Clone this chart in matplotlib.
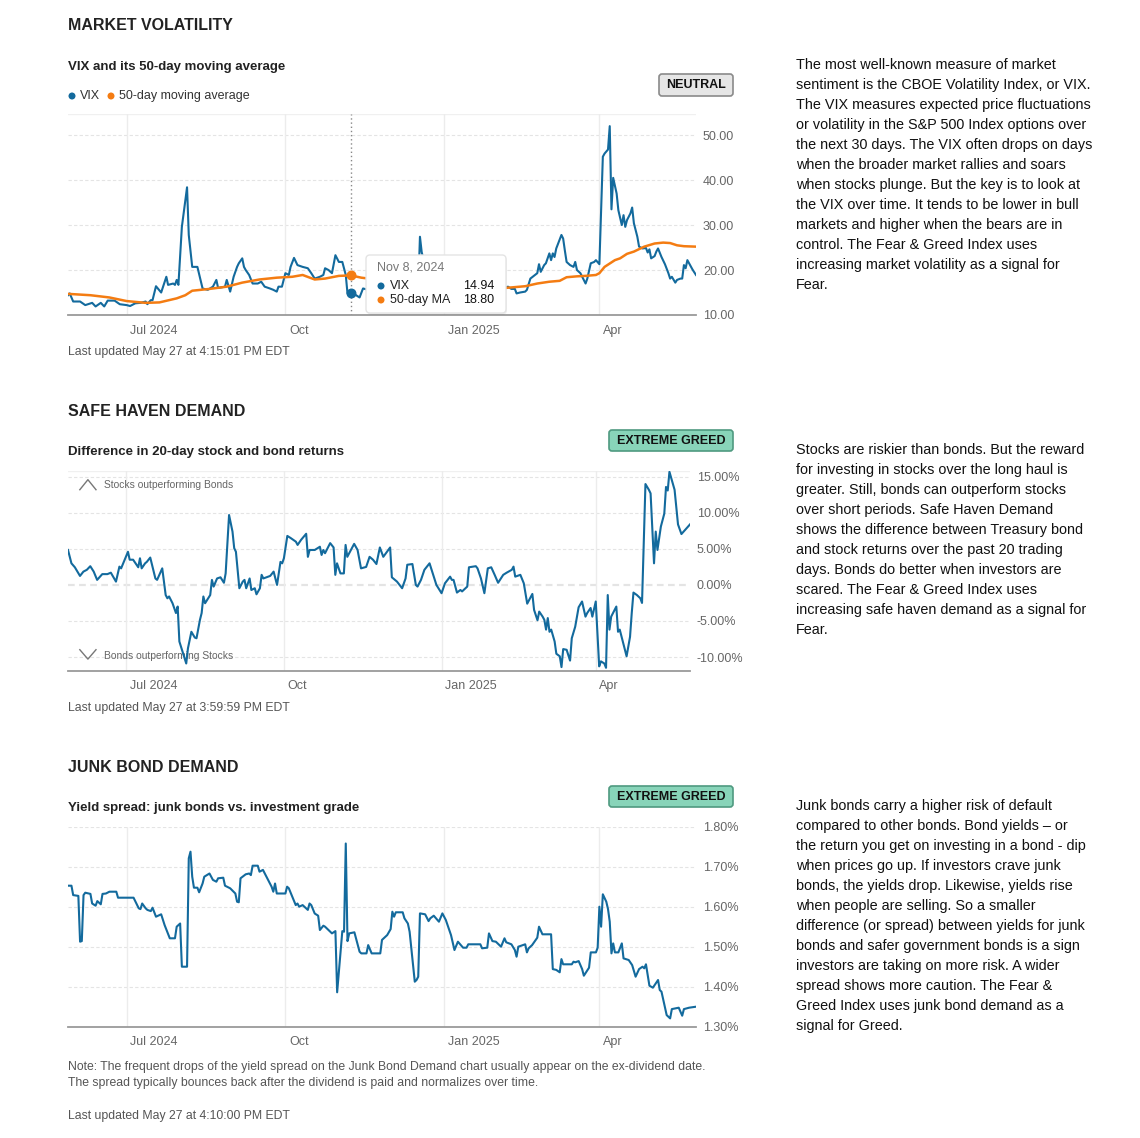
import numpy as np
import pandas as pd
import matplotlib
matplotlib.use("Agg")
import matplotlib.pyplot as plt
import matplotlib.transforms as mtransforms
from matplotlib.patches import FancyBboxPatch, Ellipse
from matplotlib.ticker import FuncFormatter

plt.rcParams['font.family'] = ['Liberation Sans', 'DejaVu Sans']

# ---------------- data ----------------
vix = [
    ("2024-05-28", 14.4), ("2024-05-29", 14.8), ("2024-05-31", 13.0), ("2024-06-04", 13.0),
    ("2024-06-07", 12.2), ("2024-06-11", 12.7), ("2024-06-13", 11.9), ("2024-06-16", 12.7),
    ("2024-06-18", 11.9), ("2024-06-20", 13.2), ("2024-06-24", 13.2), ("2024-06-27", 12.4),
    ("2024-07-01", 12.2), ("2024-07-03", 12.0), ("2024-07-06", 12.6), ("2024-07-09", 12.7),
    ("2024-07-12", 13.0), ("2024-07-13", 12.4), ("2024-07-15", 13.3), ("2024-07-16", 13.3),
    ("2024-07-18", 16.4), ("2024-07-21", 15.0), ("2024-07-24", 18.5), ("2024-07-25", 16.7),
    ("2024-07-28", 17.0), ("2024-07-29", 16.7), ("2024-07-30", 17.8), ("2024-07-31", 16.7),
    ("2024-08-02", 29.6), ("2024-08-05", 38.4), ("2024-08-06", 27.8), ("2024-08-08", 20.7),
    ("2024-08-11", 20.7), ("2024-08-14", 15.9), ("2024-08-17", 15.6), ("2024-08-20", 16.3),
    ("2024-08-22", 17.8), ("2024-08-23", 16.0), ("2024-08-27", 16.3), ("2024-08-28", 17.8),
    ("2024-08-30", 15.2), ("2024-09-01", 18.5), ("2024-09-03", 20.7), ("2024-09-04", 21.5),
    ("2024-09-06", 22.6), ("2024-09-07", 20.7), ("2024-09-08", 20.0), ("2024-09-10", 18.9),
    ("2024-09-12", 17.0), ("2024-09-15", 17.0), ("2024-09-17", 17.4), ("2024-09-19", 16.3),
    ("2024-09-22", 15.9), ("2024-09-24", 15.6), ("2024-09-26", 15.2), ("2024-09-27", 16.3),
    ("2024-09-29", 16.3), ("2024-10-01", 19.3), ("2024-10-03", 18.9), ("2024-10-04", 20.7),
    ("2024-10-06", 22.7), ("2024-10-08", 21.1), ("2024-10-11", 20.7), ("2024-10-14", 20.4),
    ("2024-10-16", 19.3), ("2024-10-18", 18.1), ("2024-10-21", 18.5), ("2024-10-23", 18.9),
    ("2024-10-24", 20.4), ("2024-10-26", 20.0), ("2024-10-28", 19.3), ("2024-10-30", 23.3),
    ("2024-11-01", 21.8), ("2024-11-03", 21.8), ("2024-11-05", 18.9), ("2024-11-06", 14.8),
    ("2024-11-08", 14.94), ("2024-11-11", 14.4), ("2024-11-13", 13.9), ("2024-11-15", 15.9),
    ("2024-11-17", 15.7), ("2024-11-21", 17.0), ("2024-11-27", 14.1), ("2024-12-05", 13.5),
    ("2024-12-12", 14.0), ("2024-12-17", 15.9), ("2024-12-18", 27.4), ("2024-12-19", 24.0),
    ("2024-12-24", 16.0), ("2025-01-02", 17.9), ("2025-01-10", 19.5), ("2025-01-17", 16.0),
    ("2025-01-24", 14.8), ("2025-01-31", 16.4), ("2025-02-05", 15.9), ("2025-02-07", 16.3),
    ("2025-02-09", 15.8), ("2025-02-11", 15.8), ("2025-02-12", 14.8), ("2025-02-14", 15.0),
    ("2025-02-17", 15.2), ("2025-02-18", 15.6), ("2025-02-20", 18.1), ("2025-02-22", 18.7),
    ("2025-02-24", 19.3), ("2025-02-25", 21.3), ("2025-02-26", 19.6), ("2025-02-28", 21.1),
    ("2025-03-01", 21.5), ("2025-03-03", 23.7), ("2025-03-04", 22.2), ("2025-03-05", 23.7),
    ("2025-03-06", 22.9), ("2025-03-07", 24.8), ("2025-03-10", 27.8), ("2025-03-11", 27.0),
    ("2025-03-12", 24.3), ("2025-03-13", 21.8), ("2025-03-15", 21.1), ("2025-03-17", 20.7),
    ("2025-03-18", 21.8), ("2025-03-19", 20.0), ("2025-03-21", 19.3), ("2025-03-23", 17.8),
    ("2025-03-24", 17.0), ("2025-03-25", 18.1), ("2025-03-27", 21.5), ("2025-03-29", 21.8),
    ("2025-03-30", 22.2), ("2025-04-01", 21.3), ("2025-04-03", 45.2), ("2025-04-04", 45.9),
    ("2025-04-06", 46.8), ("2025-04-07", 52.0), ("2025-04-08", 33.5), ("2025-04-09", 40.5),
    ("2025-04-11", 37.0), ("2025-04-12", 33.3), ("2025-04-14", 30.0), ("2025-04-15", 32.2),
    ("2025-04-16", 29.6), ("2025-04-17", 31.1), ("2025-04-19", 32.6), ("2025-04-20", 33.9),
    ("2025-04-21", 30.4), ("2025-04-23", 27.4), ("2025-04-24", 25.2), ("2025-04-26", 24.8),
    ("2025-04-28", 24.9), ("2025-04-29", 23.9), ("2025-04-30", 24.6), ("2025-05-01", 22.6),
    ("2025-05-03", 23.1), ("2025-05-04", 24.1), ("2025-05-05", 24.8), ("2025-05-07", 22.9),
    ("2025-05-09", 21.3), ("2025-05-11", 19.3), ("2025-05-12", 18.1), ("2025-05-13", 18.5),
    ("2025-05-15", 17.2), ("2025-05-16", 17.8), ("2025-05-18", 18.1), ("2025-05-19", 18.1),
    ("2025-05-20", 21.1), ("2025-05-21", 20.4), ("2025-05-22", 22.2), ("2025-05-23", 21.5),
    ("2025-05-25", 20.1), ("2025-05-27", 18.9),
]

vix_ma = [
    ("2024-05-28", 14.7), ("2024-06-10", 14.4), ("2024-06-21", 13.9), ("2024-07-01", 13.1),
    ("2024-07-12", 12.7), ("2024-07-20", 12.8), ("2024-07-30", 13.7), ("2024-08-04", 14.4),
    ("2024-08-08", 15.4), ("2024-08-18", 15.8), ("2024-08-28", 16.3), ("2024-09-06", 17.2),
    ("2024-09-16", 17.9), ("2024-09-26", 18.3), ("2024-10-05", 18.5), ("2024-10-11", 18.9),
    ("2024-10-18", 17.9), ("2024-10-24", 18.1), ("2024-11-01", 18.7), ("2024-11-08", 18.80),
    ("2024-11-14", 18.3), ("2024-12-01", 17.5), ("2025-01-01", 16.5), ("2025-02-05", 16.0),
    ("2025-02-17", 16.4), ("2025-02-24", 17.0), ("2025-03-03", 17.4), ("2025-03-09", 17.6),
    ("2025-03-13", 18.4), ("2025-03-19", 18.6), ("2025-03-24", 18.7), ("2025-03-30", 18.9),
    ("2025-04-01", 19.3), ("2025-04-04", 20.7), ("2025-04-10", 22.2), ("2025-04-13", 22.6),
    ("2025-04-17", 23.6), ("2025-04-21", 24.1), ("2025-04-27", 25.2), ("2025-05-03", 25.9),
    ("2025-05-08", 26.1), ("2025-05-12", 26.0), ("2025-05-16", 25.5), ("2025-05-20", 25.3),
    ("2025-05-27", 25.2),
]

safe_haven = [
    ("2024-05-28", 4.85), ("2024-05-30", 3.0), ("2024-06-01", 2.45), ("2024-06-04", 1.25),
    ("2024-06-06", 1.85), ("2024-06-08", 2.1), ("2024-06-10", 2.6), ("2024-06-12", 1.85),
    ("2024-06-14", 0.7), ("2024-06-17", 1.5), ("2024-06-20", 1.5), ("2024-06-22", 1.7),
    ("2024-06-25", 0.46), ("2024-06-27", 2.54), ("2024-06-28", 2.3), ("2024-06-30", 3.46),
    ("2024-07-02", 4.6), ("2024-07-03", 3.5), ("2024-07-05", 3.5), ("2024-07-08", 2.45),
    ("2024-07-09", 3.7), ("2024-07-10", 2.3), ("2024-07-12", 3.0), ("2024-07-13", 3.2),
    ("2024-07-15", 3.8), ("2024-07-18", 0.9), ("2024-07-19", 0.7), ("2024-07-22", 2.3),
    ("2024-07-24", -1.4), ("2024-07-25", -1.85), ("2024-07-26", -1.6), ("2024-07-28", -2.54),
    ("2024-07-30", -3.9), ("2024-07-31", -3.0), ("2024-08-01", -7.85), ("2024-08-05", -10.9),
    ("2024-08-06", -8.8), ("2024-08-08", -6.5), ("2024-08-10", -7.3), ("2024-08-11", -7.4),
    ("2024-08-13", -4.85), ("2024-08-14", -3.9), ("2024-08-15", -1.6), ("2024-08-16", -2.54),
    ("2024-08-19", -1.4), ("2024-08-20", 0.7), ("2024-08-21", -0.23), ("2024-08-23", 0.9),
    ("2024-08-25", 1.06), ("2024-08-27", 0.3), ("2024-08-28", 1.6), ("2024-08-30", 9.7),
    ("2024-09-01", 7.4), ("2024-09-02", 5.1), ("2024-09-03", 4.6), ("2024-09-05", -0.46),
    ("2024-09-07", 0.46), ("2024-09-08", 0.7), ("2024-09-09", -0.46), ("2024-09-11", 0.9),
    ("2024-09-12", -0.7), ("2024-09-14", -0.46), ("2024-09-15", -1.3), ("2024-09-17", -0.46),
    ("2024-09-18", 1.4), ("2024-09-19", 0.9), ("2024-09-23", 1.25), ("2024-09-25", 1.85),
    ("2024-09-27", 0.0), ("2024-09-29", 3.2), ("2024-09-30", 3.0), ("2024-10-01", 3.7),
    ("2024-10-03", 6.8), ("2024-10-05", 6.5), ("2024-10-08", 6.0), ("2024-10-09", 5.55),
    ("2024-10-11", 6.25), ("2024-10-14", 7.1), ("2024-10-15", 3.9), ("2024-10-16", 4.85),
    ("2024-10-19", 4.85), ("2024-10-22", 5.3), ("2024-10-23", 4.16), ("2024-10-24", 4.85),
    ("2024-10-25", 4.4), ("2024-10-28", 5.8), ("2024-10-30", 5.2), ("2024-10-31", 1.4),
    ("2024-11-01", 3.0), ("2024-11-03", 1.6), ("2024-11-05", 1.6), ("2024-11-06", 5.55),
    ("2024-11-07", 3.9), ("2024-11-11", 5.7), ("2024-11-13", 4.85), ("2024-11-15", 2.3),
    ("2024-11-18", 2.5), ("2024-11-20", 3.9), ("2024-11-22", 3.5), ("2024-11-24", 2.9),
    ("2024-11-26", 5.2), ("2024-11-28", 3.9), ("2024-12-02", 5.2), ("2024-12-03", 1.06),
    ("2024-12-06", 0.46), ("2024-12-09", -0.46), ("2024-12-11", 0.9), ("2024-12-12", 2.8),
    ("2024-12-15", 2.9), ("2024-12-17", 0.0), ("2024-12-18", -0.23), ("2024-12-20", 0.7),
    ("2024-12-22", 2.1), ("2024-12-25", 3.0), ("2024-12-29", 0.0), ("2025-01-01", -1.15),
    ("2025-01-03", 0.23), ("2025-01-06", 1.15), ("2025-01-07", 0.7), ("2025-01-08", 0.7),
    ("2025-01-10", -1.06), ("2025-01-12", -0.7), ("2025-01-13", -0.9), ("2025-01-15", -0.46),
    ("2025-01-16", -0.23), ("2025-01-17", 2.45), ("2025-01-21", 2.6), ("2025-01-22", 2.3),
    ("2025-01-24", 0.9), ("2025-01-26", -1.15), ("2025-01-28", 2.3), ("2025-01-30", 2.45),
    ("2025-02-01", 1.4), ("2025-02-03", 0.3), ("2025-02-06", 1.4), ("2025-02-08", 1.7),
    ("2025-02-11", 2.1), ("2025-02-12", 2.54), ("2025-02-13", 1.15), ("2025-02-16", 1.4),
    ("2025-02-18", 0.23), ("2025-02-20", -2.6), ("2025-02-23", -1.25), ("2025-02-24", -3.46),
    ("2025-02-26", -4.9), ("2025-02-27", -3.7), ("2025-03-01", -4.4), ("2025-03-02", -4.85),
    ("2025-03-03", -6.2), ("2025-03-04", -4.6), ("2025-03-05", -6.5), ("2025-03-06", -6.2),
    ("2025-03-08", -7.85), ("2025-03-09", -9.55), ("2025-03-11", -9.9), ("2025-03-12", -11.4),
    ("2025-03-13", -8.9), ("2025-03-15", -9.0), ("2025-03-17", -10.5), ("2025-03-18", -7.4),
    ("2025-03-20", -5.8), ("2025-03-22", -3.1), ("2025-03-24", -2.3), ("2025-03-26", -4.4),
    ("2025-03-27", -3.9), ("2025-03-29", -3.2), ("2025-03-30", -4.4), ("2025-04-01", -2.3),
    ("2025-04-03", -11.3), ("2025-04-04", -10.6), ("2025-04-06", -10.9), ("2025-04-07", -11.5),
    ("2025-04-08", -1.4), ("2025-04-09", -6.2), ("2025-04-10", -4.4), ("2025-04-13", -3.0),
    ("2025-04-14", -6.5), ("2025-04-15", -6.2), ("2025-04-19", -9.9), ("2025-04-21", -7.2),
    ("2025-04-22", -3.9), ("2025-04-23", -1.06), ("2025-04-25", -1.4), ("2025-04-27", -1.85),
    ("2025-04-28", -2.5), ("2025-04-30", 14.0), ("2025-05-02", 13.2), ("2025-05-03", 12.7),
    ("2025-05-05", 3.0), ("2025-05-06", 7.4), ("2025-05-07", 4.85), ("2025-05-09", 8.1),
    ("2025-05-11", 9.9), ("2025-05-12", 13.6), ("2025-05-13", 13.1), ("2025-05-14", 15.7),
    ("2025-05-17", 13.2), ("2025-05-19", 8.4), ("2025-05-21", 7.06), ("2025-05-26", 8.4),
]

junk_spread = [
    ("2024-05-28", 1.6525), ("2024-05-30", 1.6525), ("2024-05-31", 1.629), ("2024-06-03", 1.627),
    ("2024-06-04", 1.5125), ("2024-06-05", 1.514), ("2024-06-06", 1.629), ("2024-06-07", 1.635),
    ("2024-06-10", 1.632), ("2024-06-11", 1.608), ("2024-06-13", 1.6025), ("2024-06-14", 1.614),
    ("2024-06-16", 1.606), ("2024-06-17", 1.632), ("2024-06-19", 1.633), ("2024-06-21", 1.6375),
    ("2024-06-25", 1.6375), ("2024-06-26", 1.6225), ("2024-07-05", 1.6225), ("2024-07-08", 1.596),
    ("2024-07-09", 1.594), ("2024-07-10", 1.608), ("2024-07-12", 1.596), ("2024-07-13", 1.592),
    ("2024-07-15", 1.589), ("2024-07-16", 1.5975), ("2024-07-18", 1.575), ("2024-07-21", 1.581),
    ("2024-07-23", 1.554), ("2024-07-26", 1.521), ("2024-07-29", 1.521), ("2024-07-30", 1.55),
    ("2024-08-01", 1.558), ("2024-08-02", 1.45), ("2024-08-05", 1.45), ("2024-08-06", 1.721),
    ("2024-08-07", 1.7375), ("2024-08-08", 1.675), ("2024-08-09", 1.6475), ("2024-08-11", 1.6475),
    ("2024-08-12", 1.636), ("2024-08-14", 1.658), ("2024-08-15", 1.675), ("2024-08-18", 1.683),
    ("2024-08-20", 1.667), ("2024-08-22", 1.6625), ("2024-08-23", 1.671), ("2024-08-26", 1.6725),
    ("2024-08-27", 1.6525), ("2024-08-30", 1.646), ("2024-09-02", 1.633), ("2024-09-03", 1.6125),
    ("2024-09-04", 1.611), ("2024-09-05", 1.671), ("2024-09-08", 1.681), ("2024-09-10", 1.683),
    ("2024-09-11", 1.679), ("2024-09-12", 1.7025), ("2024-09-15", 1.7025), ("2024-09-16", 1.6875),
    ("2024-09-18", 1.692), ("2024-09-20", 1.675), ("2024-09-23", 1.65), ("2024-09-24", 1.6375),
    ("2024-09-25", 1.658), ("2024-09-26", 1.633), ("2024-10-01", 1.633), ("2024-10-02", 1.65),
    ("2024-10-03", 1.646), ("2024-10-05", 1.625), ("2024-10-07", 1.604), ("2024-10-08", 1.608),
    ("2024-10-09", 1.60), ("2024-10-11", 1.604), ("2024-10-14", 1.592), ("2024-10-15", 1.608),
    ("2024-10-16", 1.604), ("2024-10-18", 1.583), ("2024-10-20", 1.5775), ("2024-10-21", 1.5417),
    ("2024-10-23", 1.5525), ("2024-10-24", 1.55), ("2024-10-27", 1.5375), ("2024-10-28", 1.5333),
    ("2024-10-30", 1.539), ("2024-10-31", 1.386), ("2024-11-03", 1.539), ("2024-11-04", 1.5375),
    ("2024-11-05", 1.758), ("2024-11-06", 1.514), ("2024-11-07", 1.5333), ("2024-11-10", 1.536),
    ("2024-11-13", 1.4875), ("2024-11-14", 1.4833), ("2024-11-17", 1.4833), ("2024-11-18", 1.504),
    ("2024-11-20", 1.4833), ("2024-11-25", 1.4833), ("2024-11-26", 1.517), ("2024-11-29", 1.529),
    ("2024-12-01", 1.544), ("2024-12-02", 1.5875), ("2024-12-03", 1.575), ("2024-12-04", 1.586),
    ("2024-12-08", 1.586), ("2024-12-09", 1.571), ("2024-12-11", 1.558), ("2024-12-12", 1.5375),
    ("2024-12-13", 1.496), ("2024-12-15", 1.4125), ("2024-12-16", 1.4167), ("2024-12-17", 1.425),
    ("2024-12-18", 1.5833), ("2024-12-21", 1.581), ("2024-12-23", 1.564), ("2024-12-24", 1.571),
    ("2024-12-26", 1.5775), ("2024-12-29", 1.5625), ("2024-12-31", 1.5833), ("2025-01-02", 1.5667),
    ("2025-01-05", 1.529), ("2025-01-07", 1.4917), ("2025-01-09", 1.5125), ("2025-01-12", 1.4975),
    ("2025-01-14", 1.4975), ("2025-01-15", 1.506), ("2025-01-22", 1.506), ("2025-01-23", 1.496),
    ("2025-01-26", 1.4975), ("2025-01-27", 1.5333), ("2025-01-29", 1.514), ("2025-01-31", 1.5125),
    ("2025-02-03", 1.50), ("2025-02-05", 1.521), ("2025-02-06", 1.511), ("2025-02-09", 1.506),
    ("2025-02-11", 1.4917), ("2025-02-12", 1.475), ("2025-02-13", 1.50), ("2025-02-17", 1.506),
    ("2025-02-18", 1.4858), ("2025-02-19", 1.496), ("2025-02-21", 1.504), ("2025-02-24", 1.5225),
    ("2025-02-25", 1.55), ("2025-02-27", 1.531), ("2025-03-04", 1.531), ("2025-03-05", 1.444),
    ("2025-03-07", 1.442), ("2025-03-09", 1.436), ("2025-03-10", 1.469), ("2025-03-11", 1.456),
    ("2025-03-16", 1.456), ("2025-03-17", 1.4625), ("2025-03-18", 1.461), ("2025-03-20", 1.464),
    ("2025-03-22", 1.444), ("2025-03-23", 1.4275), ("2025-03-26", 1.4475), ("2025-03-27", 1.4858),
    ("2025-03-30", 1.4858), ("2025-03-31", 1.4975), ("2025-04-01", 1.60), ("2025-04-02", 1.55),
    ("2025-04-03", 1.631), ("2025-04-05", 1.6125), ("2025-04-06", 1.594), ("2025-04-07", 1.5625),
    ("2025-04-08", 1.4833), ("2025-04-09", 1.5083), ("2025-04-10", 1.4858), ("2025-04-12", 1.4858),
    ("2025-04-14", 1.5083), ("2025-04-15", 1.4708), ("2025-04-18", 1.4667), ("2025-04-20", 1.454),
    ("2025-04-22", 1.425), ("2025-04-24", 1.444), ("2025-04-26", 1.45), ("2025-04-27", 1.446),
    ("2025-04-28", 1.456), ("2025-04-30", 1.4025), ("2025-05-02", 1.3975), ("2025-05-05", 1.4167),
    ("2025-05-06", 1.3917), ("2025-05-07", 1.3875), ("2025-05-10", 1.329), ("2025-05-12", 1.3208),
    ("2025-05-13", 1.344), ("2025-05-17", 1.3475), ("2025-05-19", 1.3275), ("2025-05-20", 1.344),
    ("2025-05-23", 1.3475), ("2025-05-27", 1.35),
]

month_ticks = ["2024-07-01", "2024-10-01", "2025-01-01", "2025-04-01"]
month_labels = ["Jul 2024", "Oct", "Jan 2025", "Apr"]

vix_ticks = [10, 20, 30, 40, 50]
safe_ticks = [-10, -5, 0, 5, 10, 15]
junk_ticks = [1.3, 1.4, 1.5, 1.6, 1.7, 1.8]

tooltip_date = "2024-11-08"
tooltip_vix = 14.94
tooltip_ma = 18.80

text_vix = [
    "The most well-known measure of market",
    "sentiment is the CBOE Volatility Index, or VIX.",
    "The VIX measures expected price fluctuations",
    "or volatility in the S&P 500 Index options over",
    "the next 30 days. The VIX often drops on days",
    "when the broader market rallies and soars",
    "when stocks plunge. But the key is to look at",
    "the VIX over time. It tends to be lower in bull",
    "markets and higher when the bears are in",
    "control. The Fear & Greed Index uses",
    "increasing market volatility as a signal for",
    "Fear.",
]
text_safe = [
    "Stocks are riskier than bonds. But the reward",
    "for investing in stocks over the long haul is",
    "greater. Still, bonds can outperform stocks",
    "over short periods. Safe Haven Demand",
    "shows the difference between Treasury bond",
    "and stock returns over the past 20 trading",
    "days. Bonds do better when investors are",
    "scared. The Fear & Greed Index uses",
    "increasing safe haven demand as a signal for",
    "Fear.",
]
text_junk = [
    "Junk bonds carry a higher risk of default",
    "compared to other bonds. Bond yields \u2013 or",
    "the return you get on investing in a bond - dip",
    "when prices go up. If investors crave junk",
    "bonds, the yields drop. Likewise, yields rise",
    "when people are selling. So a smaller",
    "difference (or spread) between yields for junk",
    "bonds and safer government bonds is a sign",
    "investors are taking on more risk. A wider",
    "spread shows more caution. The Fear &",
    "Greed Index uses junk bond demand as a",
    "signal for Greed.",
]

BLUE = "#136a9d"
ORANGE = "#f47c12"
GREY = "#666666"

# ---------------- figure ----------------
W, H = 1140, 1138
fig = plt.figure(figsize=(W / 100, H / 100), dpi=100)


def fx(x):
    return x / W


def fy(y):
    return 1 - y / H


def series(pairs):
    d = pd.to_datetime([p[0] for p in pairs])
    v = np.array([p[1] for p in pairs])
    return d, v


def add_panel(left, top, right, bottom):
    return fig.add_axes([fx(left), fy(bottom), (right - left) / W, (bottom - top) / H])


def style_axes(ax, xend, ylim, yticks, fmt, zero_line=None):
    ax.set_xlim(pd.Timestamp("2024-05-28"), pd.Timestamp(xend))
    ax.set_ylim(*ylim)
    ax.set_facecolor("none")
    for s in ["top", "left", "right"]:
        ax.spines[s].set_visible(False)
    ax.spines["bottom"].set_color("#9a9a9a")
    ax.spines["bottom"].set_linewidth(1.3)
    ax.yaxis.tick_right()
    ax.set_yticks(yticks)
    ax.yaxis.set_major_formatter(FuncFormatter(fmt))
    ax.tick_params(axis="y", length=0, pad=5, labelsize=9, labelcolor=GREY)
    ax.set_xticks(pd.to_datetime(month_ticks))
    ax.set_xticklabels(month_labels, ha="left")
    ax.tick_params(axis="x", length=0, pad=7, labelsize=9, labelcolor=GREY)
    shift = mtransforms.ScaledTranslation(0.035, 0, fig.dpi_scale_trans)
    for lab in ax.get_xticklabels():
        lab.set_transform(lab.get_transform() + shift)
    for t in yticks:
        if t == ylim[0]:
            continue
        lw = 1.6 if t == zero_line else 0.8
        ax.axhline(t, color="#e4e4e4", lw=lw, ls=(0, (3, 2)), zorder=0)
    if ylim[1] not in yticks:
        ax.axhline(ylim[1], color="#f0f0f0", lw=1, zorder=0)
    for d in month_ticks:
        ax.axvline(pd.Timestamp(d), color="#ececec", lw=1, zorder=0)


def box(x0, y0, x1, y1, fc, ec, r=3, z=5, lw=1.0, alpha=1.0):
    p = FancyBboxPatch((fx(x0), fy(y1)), (x1 - x0) / W, (y1 - y0) / H,
                       boxstyle=f"round,pad=0,rounding_size={r / W}",
                       transform=fig.transFigure, fc=fc, ec=ec, lw=lw, zorder=z, alpha=alpha)
    fig.add_artist(p)


def dot(x, y, color, d=7, z=6):
    fig.add_artist(Ellipse((fx(x), fy(y)), d / W, d / H, transform=fig.transFigure,
                           fc=color, ec="none", zorder=z))


def header(title, subtitle, y_title, y_sub):
    fig.text(fx(68), fy(y_title), title, fontsize=11.5, fontweight="bold", color="#222222", va="center")
    fig.text(fx(68), fy(y_sub), subtitle, fontsize=9.5, fontweight="bold", color="#222222", va="center")


def badge(label, x0, y0, x1, y1, fc, ec):
    box(x0, y0, x1, y1, fc, ec, r=3, z=4, lw=1.2)
    fig.text(fx((x0 + x1) / 2), fy((y0 + y1) / 2 + 0.5), label, fontsize=9, fontweight="bold",
             color="#111111", ha="center", va="center", zorder=6)


def paragraph(lines, x, y0, step=20):
    for i, line in enumerate(lines):
        fig.text(fx(x), fy(y0 + i * step), line, fontsize=10.4, color="#111111", va="center")


def small(text, x, y, color="#555555", size=8.8):
    fig.text(fx(x), fy(y), text, fontsize=size, color=color, va="center")


# ---------------- panel 1: market volatility ----------------
header("MARKET VOLATILITY", "VIX and its 50-day moving average", 26, 67)
badge("NEUTRAL", 659, 74, 733, 96, "#e6e6e6", "#8a8a8a")
dot(72, 96, BLUE)
small("VIX", 80, 96, color="#333333", size=9)
dot(111, 96, ORANGE)
small("50-day moving average", 119, 96, color="#333333", size=9)

ax1 = add_panel(68, 114, 696, 315)
style_axes(ax1, "2025-05-27", (10, 54.7), vix_ticks, lambda v, p: f"{v:.2f}")
d, v = series(vix)
ax1.plot(d, v, color=BLUE, lw=1.5, zorder=3)
d, v = series(vix_ma)
ax1.plot(d, v, color=ORANGE, lw=1.8, zorder=3)
td = pd.Timestamp(tooltip_date)
ax1.axvline(td, color="#888888", lw=1, ls=(0, (1, 2)), zorder=2)
ax1.scatter([td], [tooltip_ma], s=38, color=ORANGE, zorder=4, clip_on=False)
ax1.scatter([td], [tooltip_vix], s=38, color=BLUE, zorder=4, clip_on=False)

# tooltip
box(367, 256.5, 507, 314.5, "#000000", "none", r=4, z=4, alpha=0.06)
box(366, 255, 506, 313, "white", "#e4e4e4", r=4, z=5)
fig.text(fx(377), fy(268), "Nov 8, 2024", fontsize=9, color="#777777", va="center", zorder=6)
dot(381, 286, BLUE)
dot(381, 300, ORANGE)
fig.text(fx(390), fy(286), "VIX", fontsize=9, color="#222222", va="center", zorder=6)
fig.text(fx(390), fy(300), "50-day MA", fontsize=9, color="#222222", va="center", zorder=6)
fig.text(fx(494), fy(286), f"{tooltip_vix:.2f}", fontsize=9, color="#111111", va="center", ha="right", zorder=6)
fig.text(fx(494), fy(300), f"{tooltip_ma:.2f}", fontsize=9, color="#111111", va="center", ha="right", zorder=6)

small("Last updated May 27 at 4:15:01 PM EDT", 68, 352)
paragraph(text_vix, 796, 65)

# ---------------- panel 2: safe haven demand ----------------
header("SAFE HAVEN DEMAND", "Difference in 20-day stock and bond returns", 411, 452)
badge("EXTREME GREED", 609, 430, 733, 451, "#88d4b9", "#4f9a80")

ax2 = add_panel(68, 470.7, 690, 670.7)
style_axes(ax2, "2025-05-26", (-11.9, 15.85), safe_ticks, lambda v, p: f"{v:.2f}%", zero_line=0)
d, v = series(safe_haven)
ax2.plot(d, v, color=BLUE, lw=1.5, zorder=3)
ax2.plot([0.019, 0.032, 0.045], [0.905, 0.955, 0.905], transform=ax2.transAxes, color="#777777", lw=1, zorder=1)
ax2.plot([0.019, 0.032, 0.045], [0.105, 0.058, 0.105], transform=ax2.transAxes, color="#777777", lw=1, zorder=1)
ax2.text(0.058, 0.928, "Stocks outperforming Bonds", transform=ax2.transAxes, fontsize=7.4,
         color="#666666", va="center", zorder=1)
ax2.text(0.058, 0.074, "Bonds outperforming Stocks", transform=ax2.transAxes, fontsize=7.4,
         color="#666666", va="center", zorder=1)

small("Last updated May 27 at 3:59:59 PM EDT", 68, 708)
paragraph(text_safe, 796, 450)

# ---------------- panel 3: junk bond demand ----------------
header("JUNK BOND DEMAND", "Yield spread: junk bonds vs. investment grade", 767, 808)
badge("EXTREME GREED", 609, 786, 733, 807, "#88d4b9", "#4f9a80")

ax3 = add_panel(68, 826.7, 696, 1026.7)
style_axes(ax3, "2025-05-27", (1.3, 1.8), junk_ticks, lambda v, p: f"{v:.2f}%")
d, v = series(junk_spread)
ax3.plot(d, v, color=BLUE, lw=1.5, zorder=3)

small("Note: The frequent drops of the yield spread on the Junk Bond Demand chart usually appear on the ex-dividend date.", 68, 1067)
small("The spread typically bounces back after the dividend is paid and normalizes over time.", 68, 1083)
small("Last updated May 27 at 4:10:00 PM EDT", 68, 1116)
paragraph(text_junk, 796, 806)

fig.savefig("out.png", dpi=100, facecolor="white")
